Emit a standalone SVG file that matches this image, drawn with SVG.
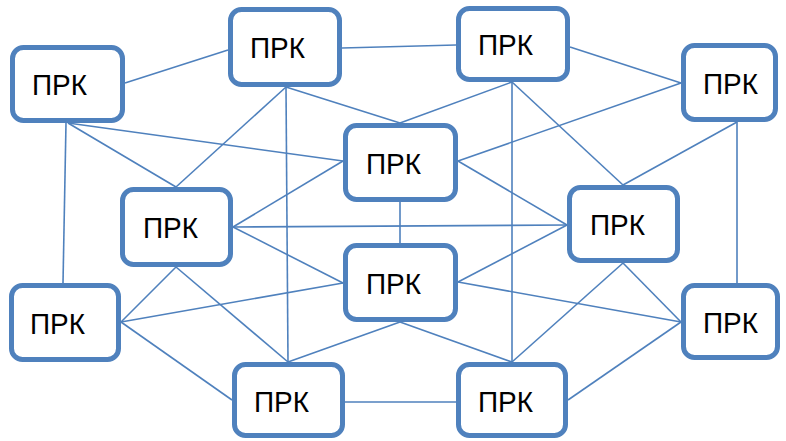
<svg xmlns="http://www.w3.org/2000/svg" width="786" height="441" viewBox="0 0 786 441">
<style>
.bg{fill:#ffffff}
.c line{stroke:#4F81BD;stroke-width:1.6;fill:none}
.n rect{fill:#ffffff;stroke:#4F81BD;stroke-width:5}
.n text{font-family:"Liberation Sans",Arial,sans-serif;font-size:30px;fill:#000000}
</style>
<rect class="bg" x="0" y="0" width="786" height="441"/>
<g id="connectors" class="c">
<line x1="125" y1="83" x2="228" y2="50"/>
<line x1="342" y1="48" x2="456" y2="45"/>
<line x1="570" y1="47" x2="681" y2="83"/>
<line x1="68" y1="123" x2="343" y2="161"/>
<line x1="68" y1="123" x2="176" y2="187"/>
<line x1="66" y1="123" x2="63" y2="283"/>
<line x1="286" y1="87" x2="176" y2="187"/>
<line x1="286" y1="87" x2="288" y2="362"/>
<line x1="286" y1="87" x2="400" y2="123"/>
<line x1="512" y1="82" x2="400" y2="123"/>
<line x1="512" y1="82" x2="512" y2="362"/>
<line x1="512" y1="82" x2="623" y2="185"/>
<line x1="681" y1="83" x2="458" y2="161"/>
<line x1="737" y1="122" x2="623" y2="185"/>
<line x1="737" y1="122" x2="737" y2="283"/>
<line x1="343" y1="161" x2="233" y2="227"/>
<line x1="400" y1="202" x2="400" y2="243"/>
<line x1="458" y1="161" x2="567" y2="225"/>
<line x1="233" y1="227" x2="567" y2="225"/>
<line x1="233" y1="227" x2="343" y2="283"/>
<line x1="176" y1="267" x2="121" y2="322"/>
<line x1="176" y1="267" x2="288" y2="362"/>
<line x1="121" y1="322" x2="343" y2="283"/>
<line x1="121" y1="322" x2="232" y2="400"/>
<line x1="345" y1="402" x2="456" y2="402"/>
<line x1="288" y1="362" x2="400" y2="322"/>
<line x1="400" y1="322" x2="512" y2="362"/>
<line x1="512" y1="362" x2="623" y2="263"/>
<line x1="458" y1="282" x2="681" y2="322"/>
<line x1="623" y1="263" x2="681" y2="322"/>
<line x1="568" y1="400" x2="681" y2="322"/>
<line x1="458" y1="282" x2="567" y2="225"/>
</g>
<g id="nA" class="n"><rect x="12.5" y="47.5" width="110" height="73" rx="11"/><text x="32" y="95" textLength="55" lengthAdjust="spacingAndGlyphs">ПРК</text></g>
<g id="nB" class="n"><rect x="230.5" y="9.5" width="109" height="75" rx="11"/><text x="250" y="58" textLength="55" lengthAdjust="spacingAndGlyphs">ПРК</text></g>
<g id="nC" class="n"><rect x="458.5" y="8.5" width="109" height="71" rx="11"/><text x="478" y="55" textLength="55" lengthAdjust="spacingAndGlyphs">ПРК</text></g>
<g id="nD" class="n"><rect x="683.5" y="45.5" width="92" height="74" rx="11"/><text x="703" y="94" textLength="55" lengthAdjust="spacingAndGlyphs">ПРК</text></g>
<g id="nE" class="n"><rect x="345.5" y="125.5" width="110" height="74" rx="11"/><text x="366" y="174" textLength="55" lengthAdjust="spacingAndGlyphs">ПРК</text></g>
<g id="nF" class="n"><rect x="345.5" y="245.5" width="110" height="74" rx="11"/><text x="366" y="294" textLength="55" lengthAdjust="spacingAndGlyphs">ПРК</text></g>
<g id="nG" class="n"><rect x="569.5" y="187.5" width="108" height="73" rx="11"/><text x="590" y="235" textLength="55" lengthAdjust="spacingAndGlyphs">ПРК</text></g>
<g id="nH" class="n"><rect x="122.5" y="189.5" width="108" height="75" rx="11"/><text x="143" y="238" textLength="55" lengthAdjust="spacingAndGlyphs">ПРК</text></g>
<g id="nI" class="n"><rect x="11.5" y="285.5" width="107" height="74" rx="11"/><text x="30" y="334" textLength="55" lengthAdjust="spacingAndGlyphs">ПРК</text></g>
<g id="nJ" class="n"><rect x="234.5" y="364.5" width="108" height="71" rx="11"/><text x="254" y="412" textLength="55" lengthAdjust="spacingAndGlyphs">ПРК</text></g>
<g id="nK" class="n"><rect x="458.5" y="364.5" width="107" height="71" rx="11"/><text x="478" y="412" textLength="55" lengthAdjust="spacingAndGlyphs">ПРК</text></g>
<g id="nL" class="n"><rect x="683.5" y="285.5" width="94" height="72" rx="11"/><text x="703" y="333" textLength="55" lengthAdjust="spacingAndGlyphs">ПРК</text></g>
</svg>
